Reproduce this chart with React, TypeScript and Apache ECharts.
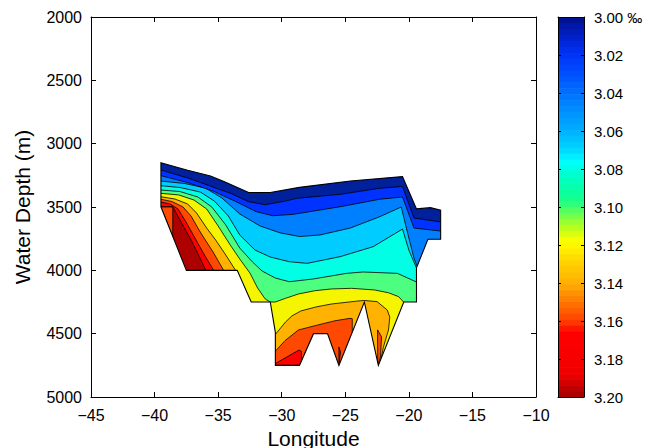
import React, { useEffect, useRef } from "react";
import * as echarts from "echarts";

type Pt = [number, number];

// ---- axes ----
const lonMin = -45, lonMax = -10, lonStep = 5;
const depthMin = 2000, depthMax = 5000, depthStep = 500;
const salMin = 3.0, salMax = 3.2, salStep = 0.02;

// ---- data extent of the section (longitude, depth in m) ----
const sectionOutline: Pt[] = [
  [-39.5, 3150], [-37.4, 3210], [-35.6, 3255], [-34.5, 3300], [-32.6, 3385], [-30.9, 3385],
  [-28.6, 3345], [-24.6, 3295], [-20.5, 3260], [-19.4, 3515], [-18.3, 3505], [-17.5, 3525],
  [-17.5, 3755], [-18.5, 3755], [-19.4, 3980], [-19.4, 4250], [-20.4, 4250], [-22.4, 4750],
  [-23.5, 4250], [-25.5, 4750], [-26.4, 4500], [-27.5, 4500], [-28.6, 4750], [-30.5, 4750],
  [-30.5, 4490], [-30.9, 4250], [-32.4, 4250], [-33.5, 4000], [-37.5, 4000], [-39.5, 3500],
];

// ---- regions fresher than each contour level (shallow side of each contour) ----
const region1: Pt[] = [[-40.4, 3050], [-40.4, 3208], [-39.5, 3208], [-37.4, 3271], [-35.4, 3342], [-33.9, 3397], [-32.6, 3458], [-31.3, 3482], [-29.7, 3453], [-28.8, 3431], [-25.4, 3400], [-22.3, 3352], [-20.5, 3338], [-19.6, 3587], [-17.5, 3618], [-17.2, 3618], [-17.2, 3050]];
const region2: Pt[] = [[-40.4, 3050], [-40.4, 3253], [-39.5, 3253], [-37.4, 3307], [-35.4, 3374], [-33.7, 3453], [-32.0, 3537], [-30.7, 3569], [-29.1, 3558], [-25.4, 3498], [-22.3, 3439], [-20.5, 3421], [-19.6, 3666], [-17.5, 3690], [-17.2, 3690], [-17.2, 3050]];
const region3: Pt[] = [[-40.4, 3050], [-40.4, 3295], [-39.5, 3295], [-37.6, 3315], [-36.0, 3350], [-34.7, 3429], [-33.3, 3555], [-31.7, 3650], [-30.1, 3705], [-28.6, 3733], [-27.0, 3721], [-24.6, 3666], [-22.3, 3577], [-20.6, 3500], [-20.06, 3721], [-19.6, 3903], [-19.36, 3966], [-19.1, 3997], [-17.2, 3997], [-17.2, 3050]];
const region4: Pt[] = [[-40.4, 3050], [-40.4, 3332], [-39.5, 3332], [-38.0, 3346], [-36.4, 3382], [-35.3, 3453], [-34.2, 3571], [-33.3, 3721], [-32.1, 3840], [-30.9, 3895], [-29.4, 3932], [-28.0, 3945], [-25.4, 3892], [-22.8, 3813], [-20.5, 3674], [-20.0, 3840], [-19.4, 3982], [-19.3, 4029], [-17.2, 4029], [-17.2, 3050]];
const region5: Pt[] = [[-40.4, 3050], [-40.4, 3366], [-39.5, 3366], [-38.0, 3378], [-36.6, 3421], [-35.5, 3500], [-34.4, 3642], [-33.3, 3824], [-32.3, 3934], [-31.55, 4005], [-30.5, 4061], [-29.4, 4090], [-27.5, 4068], [-24.9, 4024], [-23.6, 4013], [-20.9, 4024], [-19.4, 4092], [-17.2, 4092], [-17.2, 3050]];
const region6: Pt[] = [[-40.4, 3050], [-40.4, 3392], [-39.5, 3392], [-38.1, 3405], [-36.9, 3445], [-35.9, 3516], [-35.0, 3650], [-34.1, 3792], [-33.3, 3911], [-32.5, 4021], [-31.9, 4139], [-31.3, 4226], [-30.9, 4250], [-30.5, 4250], [-29.7, 4221], [-28.7, 4187], [-27.4, 4161], [-26.1, 4147], [-24.5, 4142], [-22.7, 4155], [-21.6, 4177], [-20.8, 4208], [-20.4, 4252], [-19.9, 4329], [-17.2, 4329], [-17.2, 3050]];
const region7: Pt[] = [[-40.4, 3050], [-40.4, 3419], [-39.5, 3419], [-38.4, 3437], [-37.4, 3476], [-36.7, 3547], [-35.9, 3666], [-35.2, 3760], [-34.4, 3879], [-33.6, 4005], [-33.5, 4116], [-31.9, 4392], [-30.76, 4589], [-30.53, 4510], [-29.7, 4408], [-29.2, 4360], [-28.5, 4321], [-27.3, 4289], [-26.1, 4266], [-24.0, 4242], [-23.5, 4238], [-22.5, 4247], [-21.7, 4313], [-21.5, 4369], [-21.6, 4471], [-22.0, 4605], [-22.2, 4708], [-22.0, 4803], [-17.2, 4803], [-17.2, 3050]];
const region8: Pt[] = [[-40.4, 3050], [-40.4, 3439], [-39.5, 3439], [-38.63, 3457], [-37.76, 3500], [-37.13, 3571], [-36.5, 3682], [-36.11, 3745], [-35.4, 3855], [-34.54, 4005], [-34.38, 4116], [-31.55, 4471], [-30.76, 4668], [-30.53, 4642], [-29.74, 4555], [-28.69, 4471], [-27.38, 4437], [-25.81, 4398], [-24.63, 4379], [-24.45, 4382], [-24.45, 4490], [-24.15, 4629], [-23.84, 4803], [-17.2, 4803], [-17.2, 3050]];
const region9: Pt[] = [[-40.4, 3050], [-40.4, 3460], [-39.5, 3460], [-38.78, 3476], [-38.15, 3516], [-37.53, 3618], [-36.74, 3760], [-36.03, 3887], [-35.32, 4005], [-35.17, 4116], [-34.07, 4945], [-17.2, 4945], [-17.2, 3050]];
const region10: Pt[] = [[-40.4, 3050], [-17.2, 3050], [-17.2, 4945], [-35.48, 4945], [-35.8, 4116], [-35.95, 4005], [-36.5, 3887], [-37.13, 3760], [-37.92, 3618], [-38.57, 3498], [-40.4, 3498]];

// ---- isolated patches ----
const redPatchWest: Pt[] = [[-30.53, 4750], [-30.53, 4738], [-28.64, 4629], [-28.45, 4640], [-28.45, 4750]];
const redPatchMid: Pt[] = [[-25.5, 4605], [-25.38, 4645], [-25.5, 4750]];
const orangeRedWedge: Pt[] = [[-39.5, 3500], [-38.57, 3500], [-38.57, 3735]];
const orangeRedSliver: Pt[] = [[-22.46, 4470], [-22.15, 4525], [-22.23, 4685], [-22.45, 4750]];

// band colours, freshest -> saltiest
const bandColors = ["#00209c", "#0033ff", "#0080ff", "#00ccff", "#00ffe5", "#4dff80", "#f5f500", "#ffb300", "#ff4800", "#ff0000", "#ad0000"];

// colour bar scale stops (salinity, colour)
const colorStops: [number, string][] = [
  [3.0, "#00108a"], [3.01, "#0020c8"], [3.02, "#0034f8"], [3.03, "#0050ff"], [3.04, "#0070ff"],
  [3.05, "#0090ff"], [3.06, "#00b0ff"], [3.07, "#00d8ff"], [3.076, "#00ffff"], [3.085, "#00ffc0"],
  [3.095, "#10ff90"], [3.1, "#40ff70"], [3.11, "#b0ff20"], [3.118, "#ffff00"], [3.13, "#ffd000"],
  [3.14, "#ffb000"], [3.15, "#ff7800"], [3.16, "#ff4000"], [3.166, "#ff0000"], [3.188, "#f00000"],
  [3.2, "#a00000"],
];
const colorbarSteps = 64;

const FONT = "'Liberation Sans', Arial, Helvetica, sans-serif";

function hexRgb(h: string) {
  const n = parseInt(h.slice(1), 16);
  return [(n >> 16) & 255, (n >> 8) & 255, n & 255];
}
function cmap(v: number) {
  let a = colorStops[0], b = colorStops[colorStops.length - 1];
  for (let i = 0; i < colorStops.length - 1; i++) {
    if (v >= colorStops[i][0] && v <= colorStops[i + 1][0]) { a = colorStops[i]; b = colorStops[i + 1]; break; }
  }
  const t = b[0] === a[0] ? 0 : (v - a[0]) / (b[0] - a[0]);
  const ca = hexRgb(a[1]), cb = hexRgb(b[1]);
  const c = ca.map((x, i) => Math.round(x + (cb[i] - x) * t));
  return `rgb(${c[0]},${c[1]},${c[2]})`;
}

function signedArea(ps: number[][]) {
  let s = 0;
  for (let i = 0; i < ps.length; i++) {
    const j = (i + 1) % ps.length;
    s += ps[i][0] * ps[j][1] - ps[j][0] * ps[i][1];
  }
  return s / 2;
}

function buildOption(): any {
  const renderSection = (_params: any, api: any) => {
    const px = (pts: Pt[]) => pts.map((p) => api.coord(p));
    const poly = (pts: Pt[], fill: string, lw = 0.8) => ({
      type: "polygon",
      shape: { points: px(pts) },
      style: { fill, stroke: "#000", lineWidth: lw, lineJoin: "round" },
    });
    const children: any[] = [];
    children.push(poly(sectionOutline, bandColors[10], 0));
    children.push(poly(region10, bandColors[9]));
    children.push(poly(region9, bandColors[8]));
    children.push(poly(redPatchWest, bandColors[9]));
    children.push(poly(redPatchMid, bandColors[9]));
    children.push(poly(orangeRedWedge, bandColors[8]));
    children.push(poly(region8, bandColors[7]));
    children.push(poly(orangeRedSliver, bandColors[8]));
    children.push(poly(region7, bandColors[6]));
    children.push(poly(region6, bandColors[5]));
    children.push(poly(region5, bandColors[4]));
    children.push(poly(region4, bandColors[3]));
    children.push(poly(region3, bandColors[2]));
    children.push(poly(region2, bandColors[1]));
    children.push(poly(region1, bandColors[0]));
    // white mask outside the data extent
    const tl = api.coord([lonMin, depthMin]);
    const br = api.coord([lonMax, depthMax]);
    const x0 = Math.min(tl[0], br[0]) + 1, x1 = Math.max(tl[0], br[0]) - 1;
    const y0 = Math.min(tl[1], br[1]) + 1, y1 = Math.max(tl[1], br[1]) - 1;
    const rect = [[x0, y0], [x1, y0], [x1, y1], [x0, y1]];
    let o = px(sectionOutline);
    if (Math.sign(signedArea(rect)) === Math.sign(signedArea(o))) o = o.slice().reverse();
    const d =
      "M" + rect.map((p) => p[0].toFixed(2) + " " + p[1].toFixed(2)).join(" L") + " Z M" +
      o.map((p: number[]) => p[0].toFixed(2) + " " + p[1].toFixed(2)).join(" L") + " Z";
    children.push({ type: "path", shape: { pathData: d }, style: { fill: "#fff", stroke: null } });
    children.push({
      type: "polygon",
      shape: { points: px(sectionOutline) },
      style: { fill: null, stroke: "#000", lineWidth: 1.1, lineJoin: "miter" },
    });
    return { type: "group", children };
  };

  const step = (salMax - salMin) / colorbarSteps;
  const cbData = Array.from({ length: colorbarSteps }, (_, i) => [0.5, salMin + (i + 0.5) * step]);
  const renderBar = (params: any, api: any) => {
    const i = params.dataIndex;
    const v0 = salMin + i * step, v1 = v0 + step;
    const p0 = api.coord([0, v0]);
    const p1 = api.coord([1, v1]);
    return {
      type: "rect",
      shape: { x: p0[0], y: Math.min(p0[1], p1[1]), width: p1[0] - p0[0], height: Math.abs(p1[1] - p0[1]) + 0.6 },
      style: { fill: cmap((v0 + v1) / 2), stroke: null },
    };
  };

  const lineStyle = { color: "#000", width: 1 };
  const lonFmt = (v: number) => (v < 0 ? "\u2212" + Math.abs(v) : String(v));
  const frameX = (gridIndex: number, position: string, min: number, max: number, interval: number, ticks: boolean) => ({
    gridIndex, type: "value", position, min, max, interval, z: 10,
    axisLine: { show: true, onZero: false, lineStyle },
    axisTick: { show: ticks, inside: true, length: 5, lineStyle },
    axisLabel: { show: false },
    splitLine: { show: false },
  });
  const frameY = (gridIndex: number, position: string, min: number, max: number, interval: number, tickLen: number) => ({
    gridIndex, type: "value", position, min, max, interval, inverse: true, z: 10,
    axisLine: { show: true, onZero: false, lineStyle },
    axisTick: { show: tickLen > 0, inside: true, length: tickLen, lineStyle },
    axisLabel: { show: false },
    splitLine: { show: false },
  });

  return {
    animation: false,
    backgroundColor: "#fff",
    textStyle: { fontFamily: FONT },
    grid: [
      { left: 91, top: 17, width: 445, height: 380, containLabel: false, outerBoundsMode: "none" },
      { left: 558, top: 17, width: 26, height: 380, containLabel: false, outerBoundsMode: "none" },
    ],
    xAxis: [
      {
        ...frameX(0, "bottom", lonMin, lonMax, lonStep, true),
        axisLabel: { show: true, fontSize: 16, color: "#000", margin: 10, fontFamily: FONT, formatter: lonFmt },
        name: "Longitude", nameLocation: "middle", nameGap: 29,
        nameTextStyle: { fontSize: 21, color: "#000", fontFamily: FONT },
      },
      frameX(0, "top", lonMin, lonMax, lonStep, true),
      frameX(1, "bottom", 0, 1, 1, false),
      frameX(1, "top", 0, 1, 1, false),
    ],
    yAxis: [
      {
        ...frameY(0, "left", depthMin, depthMax, depthStep, 5),
        axisLabel: { show: true, fontSize: 16, color: "#000", margin: 9, fontFamily: FONT, formatter: (v: number) => String(v) },
        name: "Water Depth (m)", nameLocation: "middle", nameGap: 58, nameRotate: 90,
        nameTextStyle: { fontSize: 21, color: "#000", fontFamily: FONT },
      },
      frameY(0, "right", depthMin, depthMax, depthStep, 5),
      frameY(1, "left", salMin, salMax, salStep, 3),
      {
        ...frameY(1, "right", salMin, salMax, salStep, 3),
        axisLabel: {
          show: true, fontSize: 15, color: "#000", margin: 10, fontFamily: FONT,
          formatter: (v: number) => (Math.abs(v - salMin) < 1e-9 ? v.toFixed(2) + " \u2030" : v.toFixed(2)),
        },
      },
    ],
    series: [
      {
        type: "custom", coordinateSystem: "cartesian2d", xAxisIndex: 0, yAxisIndex: 0,
        data: [[-30, 3500]], renderItem: renderSection, silent: true, z: 2,
      },
      {
        type: "custom", coordinateSystem: "cartesian2d", xAxisIndex: 2, yAxisIndex: 2,
        data: cbData, renderItem: renderBar, silent: true, z: 2,
      },
    ],
  };
}

export default function App() {
  const ref = useRef<HTMLDivElement>(null);
  useEffect(() => {
    if (!ref.current) return;
    const chart = echarts.init(ref.current, null, { renderer: "svg" });
    chart.setOption(buildOption());
    return () => chart.dispose();
  }, []);
  return (
    <div
      ref={ref}
      style={{ position: "fixed", left: 0, top: 0, width: 650, height: 448, background: "#fff" }}
    />
  );
}
